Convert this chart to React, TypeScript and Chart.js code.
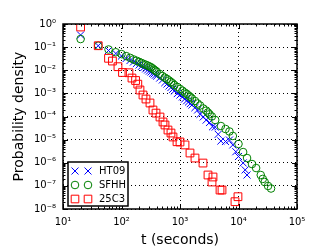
import React, { useEffect, useRef } from 'react';
import { Chart, registerables } from 'chart.js';

Chart.register(...registerables);

// ---- data ----
const seriesLabels = ['HT09', 'SFHH', '25C3'];

const htT = [20, 40, 60, 80, 100, 120, 140, 160, 180, 200, 220, 240, 260, 280, 300, 320, 340, 360, 380, 400, 450, 500, 550, 600, 650, 700, 750, 800, 900, 1000, 1100, 1200, 1300, 1400, 1500, 1600, 1800, 2000, 2200, 2500, 2800, 3200, 3600, 4000, 4500, 5000, 6000, 7000, 8000, 9000, 10000, 12000, 13000, 14000];
const htP = [0.334, 0.115, 0.0715, 0.053, 0.0413, 0.0322, 0.0264, 0.0227, 0.0196, 0.0169, 0.0148, 0.0131, 0.0115, 0.0103, 0.0092, 0.0084, 0.0074, 0.0069, 0.0061, 0.0056, 0.0046, 0.0038, 0.0029, 0.00254, 0.0021, 0.00179, 0.0015, 0.00127, 0.00098, 0.00085, 0.0007, 0.00057, 0.00048, 0.000424, 0.00036, 0.000314, 0.00024, 0.000191, 0.000125, 9.6e-5, 7e-5, 5.5e-5, 3.6e-5, 3.5e-5, 1.7e-5, 8.7e-6, 8.3e-6, 9.6e-6, 5.9e-6, 3e-6, 1.86e-6, 9.8e-7, 4.9e-7, 2.95e-7];

const sfT = [20, 40, 60, 80, 100, 120, 140, 160, 180, 200, 220, 240, 260, 280, 300, 320, 340, 360, 380, 400, 450, 500, 550, 600, 650, 700, 750, 800, 900, 1000, 1100, 1200, 1300, 1400, 1500, 1600, 1800, 2000, 2200, 2500, 2800, 3000, 3200, 3500, 4000, 5000, 6000, 7000, 8000, 10000, 12000, 14000, 17000, 20000, 24000, 26000, 28000, 32000, 36000];
const sfP = [0.224, 0.115, 0.079, 0.060, 0.050, 0.041, 0.0345, 0.0294, 0.0259, 0.0230, 0.0207, 0.0186, 0.0172, 0.0159, 0.0146, 0.0134, 0.0120, 0.0106, 0.0096, 0.0087, 0.0069, 0.0056, 0.0048, 0.0042, 0.0036, 0.0031, 0.0027, 0.0023, 0.0019, 0.00155, 0.0013, 0.00109, 0.00095, 0.00081, 0.0007, 0.0006, 0.00047, 0.000365, 0.0003, 0.000222, 0.00018, 0.000149, 0.000125, 0.0001, 7.06e-5, 3.88e-5, 2.88e-5, 2.25e-5, 1.44e-5, 6.5e-6, 2.9e-6, 1.6e-6, 8.8e-7, 5.9e-7, 2.95e-7, 2.0e-7, 1.47e-7, 9.9e-8, 7.7e-8];

const c3T = [20, 40, 60, 70, 87, 104, 134, 151, 174, 190, 207, 233, 262, 307, 345, 389, 455, 512, 554, 623, 701, 759, 889, 1000, 1217, 1482, 1804, 2471, 3010, 3524, 3664, 4831, 5224, 8710, 9790];
const c3P = [0.742, 0.115, 0.0329, 0.025, 0.01425, 0.008, 0.0078, 0.0046, 0.0036, 0.0025, 0.0014, 0.00085, 0.00057, 0.000384, 0.000191, 0.00014, 9.5e-5, 5.8e-5, 4.3e-5, 2.6e-5, 1.93e-5, 1.3e-5, 8.1e-6, 7.9e-6, 5.9e-6, 2.64e-6, 1.6e-6, 9.7e-7, 2.95e-7, 1.47e-7, 2.42e-7, 6.6e-8, 6.6e-8, 2.07e-8, 3.4e-8];

const xTicks = [10, 100, 1000, 10000, 100000];
const yTicks = [1e-8, 1e-7, 1e-6, 1e-5, 1e-4, 1e-3, 1e-2, 1e-1, 1];

const xTitle = 't (seconds)';
const yTitle = 'Probability density';

const colors = ['#0000ff', '#008000', '#ff0000'];
const styles = ['crossRot', 'circle', 'rect'];
const radii = [5, 3.8, 5.5];

const FONT = "'DejaVu Sans', sans-serif";

const SUP: Record<string, string> = {
  '0': '⁰', '1': '¹', '2': '²', '3': '³', '4': '⁴', '5': '⁵', '6': '⁶', '7': '⁷', '8': '⁸', '9': '⁹', '-': '⁻',
};
const pow10Label = (v: number) =>
  '10' + String(Math.round(Math.log10(v))).split('').map((c) => SUP[c] || c).join('');

function drawMarker(ctx: CanvasRenderingContext2D, style: string, x: number, y: number, color: string) {
  ctx.save();
  ctx.strokeStyle = color;
  ctx.lineWidth = 1;
  ctx.beginPath();
  if (style === 'crossRot') {
    const s = 3.5;
    ctx.moveTo(x - s, y - s);
    ctx.lineTo(x + s, y + s);
    ctx.moveTo(x + s, y - s);
    ctx.lineTo(x - s, y + s);
  } else if (style === 'circle') {
    ctx.arc(x, y, 3.8, 0, Math.PI * 2);
  } else {
    const s = 3.8;
    ctx.rect(x - s, y - s, 2 * s, 2 * s);
  }
  ctx.stroke();
  ctx.restore();
}

const framePlugin = {
  id: 'frameTicks',
  afterDatasetsDraw(chart: any) {
    const { ctx, chartArea, scales } = chart;
    const { left, right, top, bottom } = chartArea;
    const xs = scales.x;
    const ys = scales.y;
    ctx.save();
    ctx.strokeStyle = '#000';
    ctx.lineWidth = 1;
    ctx.beginPath();
    const e0x = Math.floor(Math.log10(xs.min));
    const e1x = Math.ceil(Math.log10(xs.max));
    for (let e = e0x; e <= e1x; e++) {
      for (let k = 1; k <= 9; k++) {
        const v = k * Math.pow(10, e);
        if (v < xs.min * 0.999 || v > xs.max * 1.001) continue;
        const px = Math.round(xs.getPixelForValue(v)) + 0.5;
        const len = k === 1 ? 5 : 2.5;
        ctx.moveTo(px, bottom);
        ctx.lineTo(px, bottom - len);
        ctx.moveTo(px, top);
        ctx.lineTo(px, top + len);
      }
    }
    const e0y = Math.floor(Math.log10(ys.min));
    const e1y = Math.ceil(Math.log10(ys.max));
    for (let e = e0y; e <= e1y; e++) {
      for (let k = 1; k <= 9; k++) {
        const v = k * Math.pow(10, e);
        if (v < ys.min * 0.999 || v > ys.max * 1.001) continue;
        const py = Math.round(ys.getPixelForValue(v)) + 0.5;
        const len = k === 1 ? 5 : 2.5;
        ctx.moveTo(left, py);
        ctx.lineTo(left + len, py);
        ctx.moveTo(right, py);
        ctx.lineTo(right - len, py);
      }
    }
    ctx.stroke();
    ctx.lineWidth = 1.5;
    ctx.strokeRect(left, top, right - left, bottom - top);
    ctx.restore();
  },
};

const legendPlugin = {
  id: 'boxLegend',
  afterDraw(chart: any) {
    const { ctx, chartArea } = chart;
    const bx = chartArea.left + 5;
    const by = chartArea.bottom - 47;
    const w = 60;
    const h = 44;
    ctx.save();
    ctx.fillStyle = '#fff';
    ctx.fillRect(bx, by, w, h);
    ctx.strokeStyle = '#000';
    ctx.lineWidth = 1.5;
    ctx.strokeRect(bx, by, w, h);
    chart.data.datasets.forEach((ds: any, i: number) => {
      const cy = by + 9 + i * 14;
      drawMarker(ctx, styles[i], bx + 7, cy, colors[i]);
      drawMarker(ctx, styles[i], bx + 20, cy, colors[i]);
      ctx.fillStyle = '#000';
      ctx.font = `10px ${FONT}`;
      ctx.textAlign = 'left';
      ctx.textBaseline = 'middle';
      ctx.fillText(ds.label, bx + 31, cy + 0.5);
    });
    ctx.restore();
  },
};

export default function App() {
  const canvasRef = useRef<HTMLCanvasElement | null>(null);

  useEffect(() => {
    document.body.style.margin = '0';
    const canvas = canvasRef.current;
    if (!canvas) return;
    const series = [
      [htT, htP],
      [sfT, sfP],
      [c3T, c3P],
    ];
    const chart = new Chart(canvas, {
      type: 'scatter',
      data: {
        datasets: series.map(([ts, ps], i) => ({
          label: seriesLabels[i],
          data: ts.map((t, j) => ({ x: t, y: ps[j] })),
          pointStyle: styles[i] as any,
          pointRadius: radii[i],
          pointBorderWidth: 1,
          pointBorderColor: colors[i],
          pointBackgroundColor: 'rgba(0,0,0,0)',
          borderColor: colors[i],
          backgroundColor: 'rgba(0,0,0,0)',
          showLine: false,
          order: 3 - i,
        })),
      },
      options: {
        responsive: false,
        animation: false,
        devicePixelRatio: 1,
        events: [],
        layout: { padding: { left: 0, right: 16, top: 24, bottom: 0 } },
        plugins: {
          legend: { display: false },
          tooltip: { enabled: false },
        },
        scales: {
          x: {
            type: 'logarithmic',
            min: 10,
            max: 100000,
            afterBuildTicks: (s: any) => {
              s.ticks = xTicks.map((v) => ({ value: v }));
            },
            afterFit: (s: any) => {
              s.height = 40;
            },
            ticks: {
              callback: (v: any) => pow10Label(Number(v)),
              autoSkip: false,
              maxRotation: 0,
              padding: 7,
              color: '#000',
              font: { family: FONT, size: 10 },
            },
            grid: { color: '#000', lineWidth: 1, drawTicks: false },
            border: { display: false, dash: [1, 3] },
            title: {
              display: true,
              text: xTitle,
              color: '#000',
              font: { family: FONT, size: 14 },
              padding: { top: 0, bottom: 0 },
            },
          },
          y: {
            type: 'logarithmic',
            min: 1e-8,
            max: 1,
            afterBuildTicks: (s: any) => {
              s.ticks = yTicks.map((v) => ({ value: v }));
            },
            afterFit: (s: any) => {
              s.width = 63;
            },
            ticks: {
              callback: (v: any) => pow10Label(Number(v)),
              autoSkip: false,
              padding: 7,
              color: '#000',
              font: { family: FONT, size: 10 },
            },
            grid: { color: '#000', lineWidth: 1, drawTicks: false },
            border: { display: false, dash: [1, 3] },
            title: {
              display: true,
              text: yTitle,
              color: '#000',
              font: { family: FONT, size: 14 },
              padding: { top: 11, bottom: 0 },
            },
          },
        },
      },
      plugins: [framePlugin, legendPlugin],
    } as any);
    return () => chart.destroy();
  }, []);

  return (
    <div style={{ position: 'fixed', left: 0, top: 0, width: 313, height: 249, background: '#fff' }}>
      <canvas ref={canvasRef} width={313} height={249} style={{ width: 313, height: 249, display: 'block' }} />
    </div>
  );
}
